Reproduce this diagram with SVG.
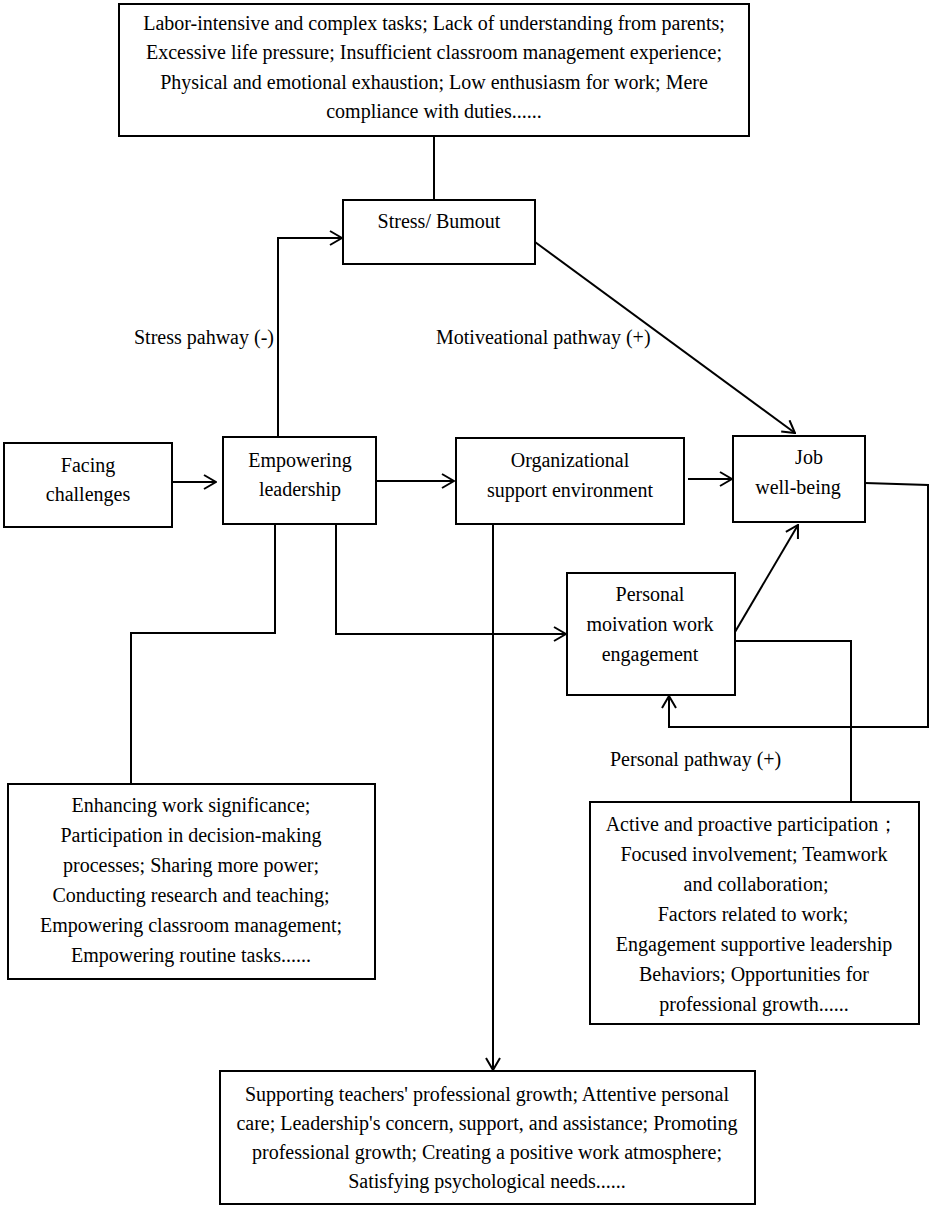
<svg xmlns="http://www.w3.org/2000/svg" width="935" height="1209" viewBox="0 0 935 1209">
<style>
.box{fill:#fff;stroke:#000;stroke-width:2}
.t{font-family:"Liberation Serif","Times New Roman",serif;font-size:20px;fill:#000;text-anchor:middle}
.l{font-family:"Liberation Serif","Times New Roman",serif;font-size:20px;fill:#000}
.c{fill:none;stroke:#000;stroke-width:2}
</style>
<defs>
<marker id="ah" viewBox="0 0 14 16" refX="13" refY="8" markerWidth="14" markerHeight="16" markerUnits="userSpaceOnUse" orient="auto">
<path d="M1,1 L13,8 L1,15" fill="none" stroke="#000" stroke-width="2"/>
</marker>
</defs>
<rect width="935" height="1209" fill="#fff"/>
<g id="connectors">
<path class="c" d="M434,136 V200"/>
<path class="c" d="M278,437 V238 H342" marker-end="url(#ah)"/>
<path class="c" d="M535,242 L795,433" marker-end="url(#ah)"/>
<path class="c" d="M172,482 H216" marker-end="url(#ah)"/>
<path class="c" d="M376,481 H454" marker-end="url(#ah)"/>
<path class="c" d="M688,479 H732" marker-end="url(#ah)"/>
<path class="c" d="M336,524 V634 H566" marker-end="url(#ah)"/>
<path class="c" d="M735,632 L798,525" marker-end="url(#ah)"/>
<path class="c" d="M865,483 L928,485 V727 H669 V696" marker-end="url(#ah)"/>
<path class="c" d="M735,641 H851 V802"/>
<path class="c" d="M275,524 V633 H131 V784"/>
<path class="c" d="M493,524 V1070" marker-end="url(#ah)"/>
</g>
<g id="top-box">
<rect class="box" x="119" y="4" width="630" height="132"/>
<text class="t" x="434" y="30">Labor-intensive and complex tasks; Lack of understanding from parents;</text>
<text class="t" x="434" y="59">Excessive life pressure; Insufficient classroom management experience;</text>
<text class="t" x="434" y="89">Physical and emotional exhaustion; Low enthusiasm for work; Mere</text>
<text class="t" x="434" y="118">compliance with duties......</text>
</g>
<g id="stress">
<rect class="box" x="343" y="200" width="192" height="64"/>
<text class="t" x="439" y="228">Stress/ Bumout</text>
</g>
<g id="labels">
<text class="l" x="134" y="344">Stress pahway (-)</text>
<text class="l" x="436" y="344">Motiveational pathway (+)</text>
<text class="l" x="610" y="766">Personal pathway (+)</text>
</g>
<g id="facing">
<rect class="box" x="4" y="443" width="168" height="84"/>
<text class="t" x="88" y="472">Facing</text>
<text class="t" x="88" y="501">challenges</text>
</g>
<g id="empowering">
<rect class="box" x="223" y="437" width="153" height="87"/>
<text class="t" x="300" y="467">Empowering</text>
<text class="t" x="300" y="496">leadership</text>
</g>
<g id="org">
<rect class="box" x="456" y="438" width="228" height="86"/>
<text class="t" x="570" y="467">Organizational</text>
<text class="t" x="570" y="497">support environment</text>
</g>
<g id="job">
<rect class="box" x="733" y="436" width="132" height="86"/>
<text class="t" x="809" y="464">Job</text>
<text class="t" x="798" y="494">well-being</text>
</g>
<g id="personal">
<rect class="box" x="567" y="573" width="168" height="122"/>
<text class="t" x="650" y="601">Personal</text>
<text class="t" x="650" y="631">moivation work</text>
<text class="t" x="650" y="661">engagement</text>
</g>
<g id="empower-detail">
<rect class="box" x="8" y="784" width="367" height="195"/>
<text class="t" x="191" y="812">Enhancing work significance;</text>
<text class="t" x="191" y="842">Participation in decision-making</text>
<text class="t" x="191" y="872">processes; Sharing more power;</text>
<text class="t" x="191" y="902">Conducting research and teaching;</text>
<text class="t" x="191" y="932">Empowering classroom management;</text>
<text class="t" x="191" y="962">Empowering routine tasks......</text>
</g>
<g id="personal-detail">
<rect class="box" x="590" y="802" width="329" height="222"/>
<text class="t" x="752" y="831">Active and proactive participation；</text>
<text class="t" x="754" y="861">Focused involvement; Teamwork</text>
<text class="t" x="756" y="891">and collaboration;</text>
<text class="t" x="753" y="921">Factors related to work;</text>
<text class="t" x="754" y="951">Engagement supportive leadership</text>
<text class="t" x="754" y="981">Behaviors; Opportunities for</text>
<text class="t" x="754" y="1011">professional growth......</text>
</g>
<g id="org-detail">
<rect class="box" x="220" y="1071" width="535" height="133"/>
<text class="t" x="487" y="1101">Supporting teachers' professional growth; Attentive personal</text>
<text class="t" x="487" y="1130">care; Leadership's concern, support, and assistance; Promoting</text>
<text class="t" x="487" y="1159">professional growth; Creating a positive work atmosphere;</text>
<text class="t" x="487" y="1188">Satisfying psychological needs......</text>
</g>
</svg>
